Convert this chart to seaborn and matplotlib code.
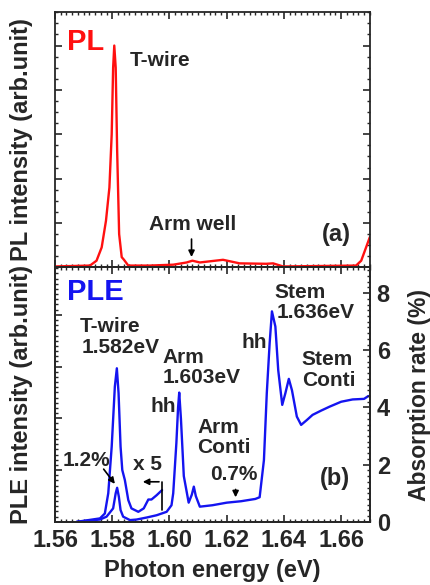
import numpy as np
import pandas as pd
import matplotlib
matplotlib.use("Agg")
import matplotlib.pyplot as plt
from matplotlib.ticker import MultipleLocator, AutoMinorLocator
import seaborn as sns

# PL spectrum (top panel, arb. units)
pl_energy = [1.5600, 1.5722, 1.5745, 1.5763, 1.5778, 1.5790, 1.5798, 1.5803, 1.5807,
             1.5812, 1.5817, 1.5824, 1.5833, 1.5841, 1.5856, 1.5931, 1.6013, 1.6060,
             1.6080, 1.6106, 1.6187, 1.6245, 1.6338, 1.6362, 1.6397, 1.6652, 1.6670,
             1.6687, 1.6700]
pl_intensity = [0.02, 0.04, 0.15, 0.45, 1.05, 1.80, 3.00, 4.50, 5.00,
                4.50, 2.65, 0.75, 0.23, 0.17, 0.04, 0.04, 0.06, 0.11,
                0.15, 0.11, 0.17, 0.09, 0.08, 0.09, 0.02, 0.04, 0.15,
                0.45, 0.68]

# PLE spectrum (absorption rate, %)
ple_energy = [1.5676, 1.5757, 1.5780, 1.5803, 1.5812, 1.5817, 1.5823, 1.5829, 1.5838,
              1.5862, 1.5885, 1.5920, 1.5955, 1.5990, 1.6007, 1.6013, 1.6024, 1.6030,
              1.6034, 1.6040, 1.6050, 1.6067, 1.6078, 1.6085, 1.6092, 1.6106, 1.6150,
              1.6200, 1.6250, 1.6300, 1.6315, 1.6330, 1.6340, 1.6350, 1.6358, 1.6370,
              1.6380, 1.6394, 1.6405, 1.6417, 1.6428, 1.6445, 1.6460, 1.6480, 1.6500,
              1.6530, 1.6560, 1.6600, 1.6640, 1.6680, 1.6695]
ple_absorption = [0.00, 0.08, 0.18, 0.47, 1.00, 1.19, 0.88, 0.41, 0.18,
                  0.06, 0.08, 0.15, 0.23, 0.35, 0.58, 1.00, 2.75, 4.00,
                  4.52, 3.60, 1.60, 0.67, 0.95, 1.23, 0.90, 0.53, 0.58,
                  0.67, 0.72, 0.80, 0.86, 2.16, 4.50, 6.25, 7.36, 6.83,
                  5.30, 4.09, 4.50, 5.00, 4.60, 3.68, 3.39, 3.56, 3.74,
                  3.89, 4.03, 4.20, 4.28, 4.30, 4.40]

# PLE x5 magnified part
ple5_energy = [1.5676, 1.5757, 1.5774, 1.5786, 1.5798, 1.5809, 1.5816, 1.5822, 1.5829,
               1.5835, 1.5844, 1.5856, 1.5867, 1.5891, 1.5910, 1.5926, 1.5937, 1.5955,
               1.5974]
ple5_absorption = [0.00, 0.12, 0.29, 1.00, 2.63, 4.73, 5.37, 4.50, 2.63,
                   1.81, 1.46, 0.76, 0.47, 0.35, 0.47, 0.78, 0.78, 0.93,
                   1.11]

red = "#ff1010"
blue = "#1414f0"

sns.set_style("ticks")
plt.rcParams["font.family"] = ["Liberation Sans", "DejaVu Sans"]
plt.rcParams["font.weight"] = "bold"
plt.rcParams["axes.linewidth"] = 1.3

fig = plt.figure(figsize=(4.3, 5.85), dpi=100)
ax1 = fig.add_axes([0.128, 0.543, 0.732, 0.436])
ax2 = fig.add_axes([0.128, 0.108, 0.732, 0.435], sharex=ax1)

pl = pd.DataFrame({"E": pl_energy, "I": pl_intensity})
ple = pd.DataFrame({"E": ple_energy, "A": ple_absorption})
ple5 = pd.DataFrame({"E": ple5_energy, "A": ple5_absorption})

sns.lineplot(data=pl, x="E", y="I", ax=ax1, color=red, lw=1.7, sort=False, estimator=None)
sns.lineplot(data=ple, x="E", y="A", ax=ax2, color=blue, lw=1.7, sort=False, estimator=None)
sns.lineplot(data=ple5, x="E", y="A", ax=ax2, color=blue, lw=1.7, sort=False, estimator=None)

ax1.set_xlim(1.56, 1.67)
ax1.set_ylim(0, 5.75)
ax2.set_ylim(0, 8.9)

ax1.xaxis.set_major_locator(MultipleLocator(0.02))
ax1.xaxis.set_minor_locator(MultipleLocator(0.002))
ax1.yaxis.set_major_locator(MultipleLocator(1))
ax1.yaxis.set_minor_locator(AutoMinorLocator(4))

# bottom-left axis: unlabelled arbitrary ticks
ax2.yaxis.set_major_locator(MultipleLocator(1.81))
ax2.yaxis.set_minor_locator(AutoMinorLocator(10))

for ax in (ax1, ax2):
    ax.tick_params(which="both", direction="in", top=True, bottom=True, left=True,
                   right=(ax is ax1), labelleft=False)
    ax.tick_params(which="major", length=5, width=1.2)
    ax.tick_params(which="minor", length=2.5, width=1.0)
    ax.set_xlabel("")
    ax.set_ylabel("")
ax1.tick_params(labelbottom=False)
ax2.tick_params(axis="x", labelsize=17, pad=5)
for lab in ax2.get_xticklabels():
    lab.set_fontweight("bold")
ax2.xaxis.set_major_formatter(matplotlib.ticker.FormatStrFormatter("%.2f"))

axr = ax2.twinx()
axr.set_ylim(0, 8.9)
axr.yaxis.set_major_locator(MultipleLocator(2))
axr.yaxis.set_minor_locator(AutoMinorLocator(10))
axr.tick_params(which="both", direction="in", labelsize=17, pad=5)
axr.tick_params(which="major", length=5, width=1.2)
axr.tick_params(which="minor", length=2.5, width=1.0)
for lab in axr.get_yticklabels():
    lab.set_fontweight("bold")

ax1.set_ylabel("PL intensity (arb.unit)", fontsize=17, fontweight="bold")
ax1.yaxis.set_label_coords(-0.07, 0.5)
ax2.set_ylabel("PLE intensity (arb.unit)", fontsize=17, fontweight="bold")
ax2.yaxis.set_label_coords(-0.07, 0.5)
axr.set_ylabel("Absorption rate (%)", fontsize=16.5, fontweight="bold", rotation=90)
axr.yaxis.set_label_coords(1.12, 0.5)
ax2.set_xlabel("Photon energy (eV)", fontsize=17, fontweight="bold", labelpad=5)

tk = dict(fontsize=15, fontweight="bold", va="center", ha="left")
arrow = dict(arrowstyle="-|>", color="black", lw=1.2, mutation_scale=9)

# top panel labels
ax1.text(1.5642, 5.09, "PL", color=red, fontsize=21, fontweight="bold", va="center")
ax1.text(1.5862, 4.66, "T-wire", **tk)
ax1.text(1.6082, 0.96, "Arm well", fontsize=15, fontweight="bold", va="center", ha="center")
ax1.annotate("", xy=(1.6077, 0.17), xytext=(1.6077, 0.70), arrowprops=arrow)
ax1.text(1.6584, 0.74, "(a)", fontsize=17, fontweight="bold", va="center", ha="center")

# bottom panel labels
ax2.text(1.5642, 8.05, "PLE", color=blue, fontsize=21, fontweight="bold", va="center")
ax2.text(1.5687, 6.83, "T-wire", **tk)
ax2.text(1.5694, 6.09, "1.582eV", **tk)
ax2.text(1.5977, 5.74, "Arm", **tk)
ax2.text(1.5977, 5.04, "1.603eV", **tk)
ax2.text(1.5932, 4.02, "hh", **tk)
ax2.text(1.6253, 6.27, "hh", **tk)
ax2.text(1.6368, 8.02, "Stem", **tk)
ax2.text(1.6375, 7.32, "1.636eV", **tk)
ax2.text(1.6462, 5.67, "Stem", **tk)
ax2.text(1.6462, 4.94, "Conti", **tk)
ax2.text(1.6099, 3.29, "Arm", **tk)
ax2.text(1.6096, 2.59, "Conti", **tk)
ax2.text(1.5628, 2.13, "1.2%", **tk)
ax2.annotate("", xy=(1.5815, 1.25), xytext=(1.5764, 1.92), arrowprops=arrow)
ax2.text(1.5872, 1.99, "x 5", **tk)
ax2.plot([1.5973, 1.5973], [0.41, 1.40], color="black", lw=1.2)
ax2.annotate("", xy=(1.5897, 1.40), xytext=(1.5973, 1.40), arrowprops=arrow)
ax2.text(1.6141, 1.64, "0.7%", **tk)
ax2.annotate("", xy=(1.6231, 0.76), xytext=(1.6231, 1.23), arrowprops=arrow)
ax2.text(1.6577, 1.53, "(b)", fontsize=17, fontweight="bold", va="center", ha="center")

plt.savefig("out.png", dpi=100)
